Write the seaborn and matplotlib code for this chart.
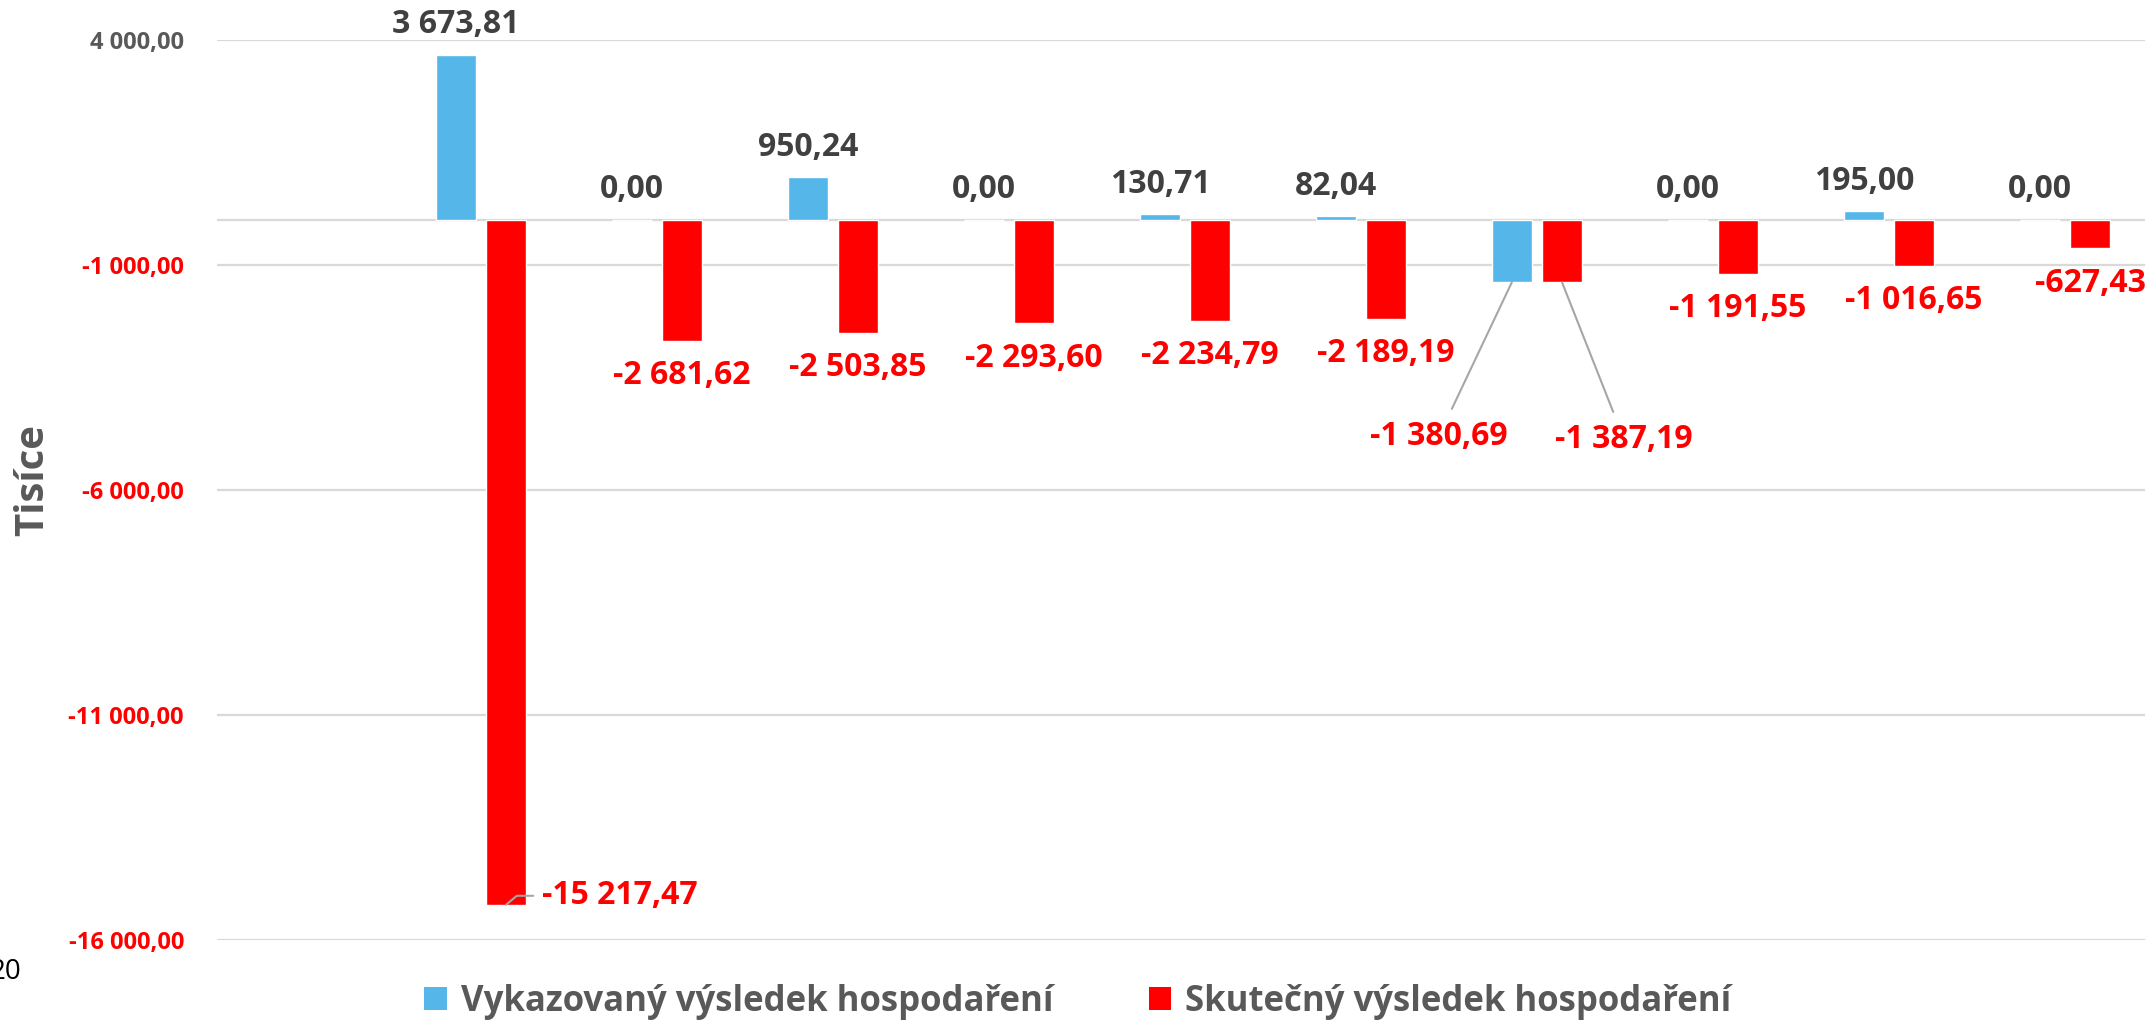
import numpy as np
import pandas as pd
import seaborn as sns
import matplotlib.pyplot as plt
from matplotlib.patches import Patch

# data (tisíce Kč), first category is empty in the source chart
roky = ['2010', '2011', '2012', '2013', '2014', '2015', '2016', '2017', '2018', '2019', '2020']
vykazovany = [np.nan, 3673.81, 0.00, 950.24, 0.00, 130.71, 82.04, -1380.69, 0.00, 195.00, 0.00]
skutecny = [np.nan, -15217.47, -2681.62, -2503.85, -2293.60, -2234.79, -2189.19, -1387.19, -1191.55, -1016.65, -627.43]
serie = ['Vykazovaný výsledek hospodaření', 'Skutečný výsledek hospodaření']
barvy = ['#55B6E9', '#FF0000']
yticks = [4000, -1000, -6000, -11000, -16000]

df = pd.DataFrame({
    'rok': roky * 2,
    'serie': [serie[0]] * len(roky) + [serie[1]] * len(roky),
    'hodnota': vykazovany + skutecny,
}).dropna()

sns.set_theme(style='white')
plt.rcParams['font.family'] = ['Open Sans', 'DejaVu Sans']

PX = 0.72  # points per pixel at dpi 100

fig = plt.figure(figsize=(21.45, 10.23), dpi=100)
ax = fig.add_axes([217 / 2145, 83 / 1023, 1936 / 2145, 900 / 1023])

sns.barplot(data=df, x='rok', y='hodnota', hue='serie', order=roky, hue_order=serie,
            palette=barvy, saturation=1, width=0.57, gap=0.2, errorbar=None,
            legend=False, ax=ax)

ax.set_xlim(-0.5, 10.5)
ax.set_ylim(-16000, 4000)
for s in ax.spines.values():
    s.set_visible(False)
ax.set_xlabel('')
ax.set_ylabel('')
ax.tick_params(axis='x', length=0, labelbottom=False)

ax.set_yticks(yticks)
ax.set_yticklabels([f"{v:,.2f}".replace(',', ' ').replace('.', ',') for v in yticks])
ax.tick_params(axis='y', length=0, pad=33 * PX, labelsize=17)
for lbl, v in zip(ax.get_yticklabels(), yticks):
    lbl.set_color('#595959' if v > 0 else '#FF0000')
    lbl.set_fontweight('bold')

ax.yaxis.grid(True, color='#d9d9d9', lw=1.6)
ax.set_axisbelow(True)
ax.axhline(0, color='#d9d9d9', lw=1.6, zorder=0.5)


def cz(v):
    return f"{v:,.2f}".replace(',', ' ').replace('.', ',')


leader = dict(arrowstyle='-', color='#a6a6a6', lw=1.5, shrinkA=6, shrinkB=0)

for k, cont in enumerate(ax.containers):
    for bar in cont:
        cx = bar.get_x() + bar.get_width() / 2
        if bar.get_height() < 0:
            val = bar.get_y() if bar.get_y() < 0 else bar.get_y() + bar.get_height()
        else:
            val = bar.get_height()
        i = int(round(cx))
        col = '#FF0000' if val < 0 else '#404040'
        kw = dict(textcoords='offset points', ha='center', va='center', fontsize=23,
                  fontweight='bold', color=col, annotation_clip=False)
        if k == 0 and i == 7:
            ax.annotate(cz(val), (cx, val), xytext=(-73 * PX, -154 * PX), arrowprops=leader, **kw)
        elif k == 1 and i == 7:
            ax.annotate(cz(val), (cx, val), xytext=(62 * PX, -157 * PX), arrowprops=leader, **kw)
        elif k == 1 and i == 1:
            kw['ha'] = 'left'
            ax.annotate(cz(val), (cx, val), xytext=(36 * PX, 9 * PX),
                        arrowprops=dict(arrowstyle='-', color='#a6a6a6', lw=1.5, shrinkA=4, shrinkB=0,
                                        connectionstyle='angle,angleA=0,angleB=40,rad=0'), **kw)
        elif val >= 0:
            ax.annotate(cz(val), (cx, val), xytext=(0, 30 * PX), **kw)
        else:
            ax.annotate(cz(val), (cx, val), xytext=(0, -35 * PX), **kw)

fig.text(33 / 2145, 1 - 480 / 1023, 'Tisíce', rotation=90, ha='center', va='center',
         fontsize=29, fontweight='bold', color='#595959')
fig.text(21 / 2145, 1 - 972 / 1023, '20', ha='right', va='center', fontsize=20, color='black')

handles = [Patch(facecolor=c, edgecolor='none') for c in barvy]
leg = fig.legend(handles, serie, loc='center', bbox_to_anchor=(1078 / 2145, 1 - 1002 / 1023),
                 ncol=2, frameon=False, fontsize=25, handlelength=0.65, handleheight=0.65,
                 handletextpad=0.4, columnspacing=2.75)
for t in leg.get_texts():
    t.set_color('#595959')
    t.set_fontweight('bold')

fig.savefig('out.png', dpi=100)
